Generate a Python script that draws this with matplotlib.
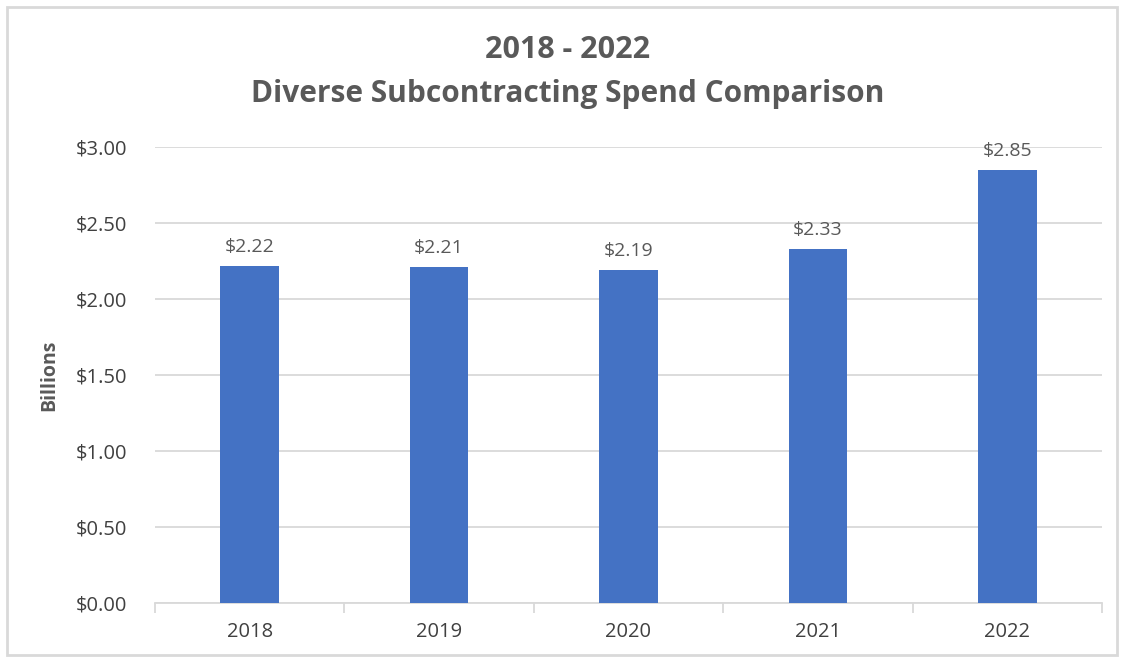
import numpy as np
import matplotlib.pyplot as plt
from matplotlib.patches import Rectangle

years = ['2018', '2019', '2020', '2021', '2022']
spend = [2.22, 2.21, 2.19, 2.33, 2.85]
yticks = [0.0, 0.5, 1.0, 1.5, 2.0, 2.5, 3.0]

plt.rcParams['font.family'] = ['Open Sans', 'DejaVu Sans']

fig = plt.figure(figsize=(11.24, 6.61), dpi=100)
ax = fig.add_axes([155 / 1124, 58 / 661, 947 / 1124, 456 / 661])

x = np.arange(len(years))
ax.bar(x, spend, width=0.31, color='#4472C4', zorder=3)
for xi, v in zip(x, spend):
    ax.annotate(f'${v:.2f}', (xi, v), xytext=(0, 7), textcoords='offset points',
                ha='center', va='bottom', fontsize=14, color='#595959')

ax.set_xlim(-0.5, len(years) - 0.5)
ax.set_ylim(0, 3.0)
ax.set_yticks(yticks)
ax.set_yticklabels([f'${t:.2f}' for t in yticks])
ax.grid(axis='y', color='#d9d9d9', linewidth=1.3, zorder=0)
ax.tick_params(axis='y', length=0, pad=20, labelsize=14.5, labelcolor='#404040')

ax.set_xticks(x)
ax.set_xticklabels(years)
ax.set_xticks(np.arange(-0.5, len(years)), minor=True)
ax.tick_params(axis='x', which='major', length=0, pad=14, labelsize=14.5, labelcolor='#404040')
ax.tick_params(axis='x', which='minor', length=7, color='#d9d9d9', width=1.3)

for s in ['top', 'right', 'left']:
    ax.spines[s].set_visible(False)
ax.spines['bottom'].set_color('#d9d9d9')
ax.spines['bottom'].set_linewidth(1.3)

ax.set_ylabel('Billions', fontsize=14, fontweight='bold', color='#595959', labelpad=12)

fig.text(0.505, 1 - 50 / 661, '2018 - 2022', ha='center', va='center',
         fontsize=22, fontweight='bold', color='#595959')
fig.text(0.505, 1 - 94 / 661, 'Diverse Subcontracting Spend Comparison', ha='center', va='center',
         fontsize=21.5, fontweight='bold', color='#595959')

fig.patches.append(Rectangle((7 / 1124, 6 / 661), 1110 / 1124, 648 / 661,
                             transform=fig.transFigure, fill=False,
                             edgecolor='#d9d9d9', linewidth=2))

fig.savefig('out.png', dpi=100)
